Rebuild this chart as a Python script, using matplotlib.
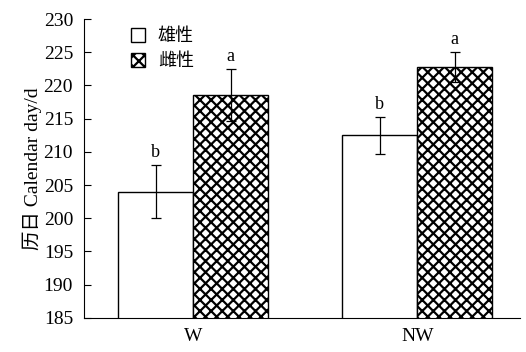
import numpy as np
import matplotlib.pyplot as plt

plt.rcParams['font.family'] = ['Liberation Serif', 'Noto Sans CJK SC']
plt.rcParams['hatch.linewidth'] = 1.6

groups = ['W', 'NW']
male = [204.0, 212.5]
male_err = [4.0, 2.8]
female = [218.6, 222.8]
female_err = [3.9, 2.3]
male_letters = ['b', 'b']
female_letters = ['a', 'a']

fig = plt.figure(figsize=(5.26, 3.52), dpi=100)
ax = fig.add_axes([0.16, 0.097, 0.829, 0.849])

x = np.arange(len(groups))
w = 0.335
ebar = dict(ecolor='black', elinewidth=0.9, capsize=3.5, capthick=0.9)
ax.bar(x - w/2, male, w, color='white', edgecolor='black', lw=1.0,
       yerr=male_err, error_kw=ebar, label='雄性')
ax.bar(x + w/2, female, w, color='white', edgecolor='black', lw=1.0, hatch='xxx',
       yerr=female_err, error_kw=ebar, label='雌性')

for i in range(len(groups)):
    ax.text(x[i] - w/2, male[i] + male_err[i] + 0.6, male_letters[i], ha='center', va='bottom', fontsize=13)
    ax.text(x[i] + w/2, female[i] + female_err[i] + 0.6, female_letters[i], ha='center', va='bottom', fontsize=13)

ax.set_ylim(185, 230)
ax.set_yticks(np.arange(185, 231, 5))
ax.set_xlim(-0.487, 1.46)
ax.set_xticks(x)
ax.set_xticklabels(groups)
ax.tick_params(axis='y', direction='in', length=5, labelsize=14, width=0.8, pad=8)
ax.tick_params(axis='x', length=0, labelsize=14, pad=7)
ax.spines['top'].set_visible(False)
ax.spines['right'].set_visible(False)
ax.set_ylabel('历日 Calendar day/d', fontsize=14, labelpad=1)

ax.legend(loc='upper left', bbox_to_anchor=(0.07, 1.025), frameon=False, fontsize=13,
          handlelength=0.8, handleheight=0.8, handletextpad=0.7, labelspacing=0.45)

fig.savefig('out.png', dpi=100)
